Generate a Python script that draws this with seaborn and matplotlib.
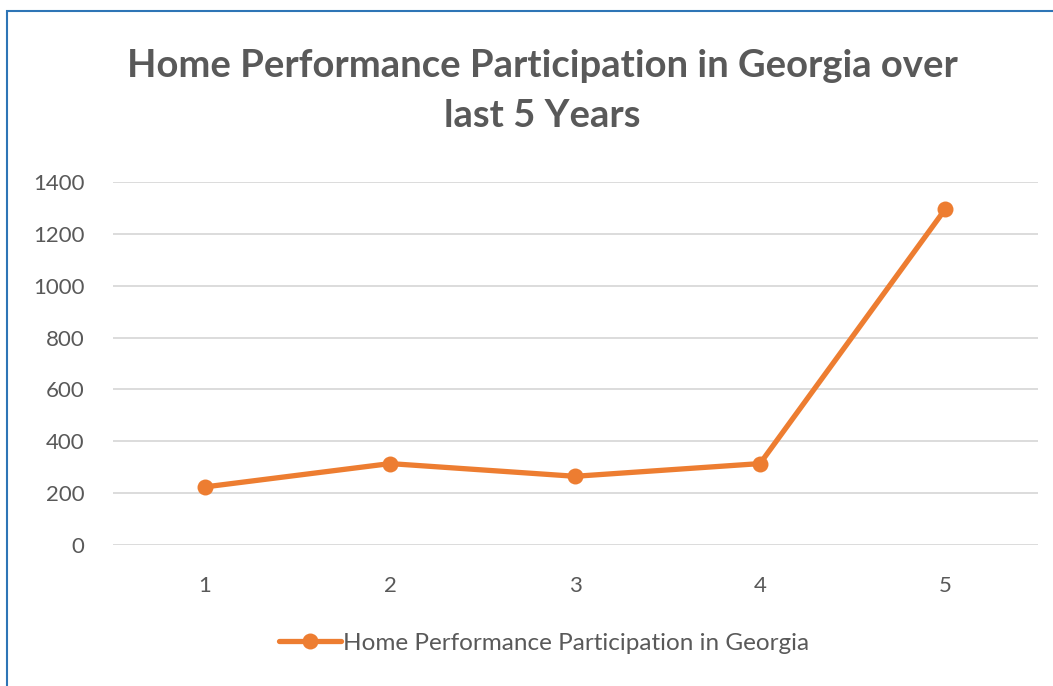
import matplotlib
matplotlib.use("Agg")
import matplotlib.pyplot as plt
import seaborn as sns
import pandas as pd
from matplotlib.patches import Rectangle
from matplotlib.lines import Line2D

years = [1, 2, 3, 4, 5]
participation = [224, 314, 265, 314, 1294]
yticks = [0, 200, 400, 600, 800, 1000, 1200, 1400]
series_name = "Home Performance Participation in Georgia"
title = "Home Performance Participation in Georgia over\nlast 5 Years"

sns.set_theme(style="white")
plt.rcParams['font.family'] = ['Lato', 'DejaVu Sans']

df = pd.DataFrame({"year": years, "value": participation})

fig = plt.figure(figsize=(10.53, 6.86), dpi=100)
W, H = 1053, 686
ax = fig.add_axes([112.5 / W, 1 - 545 / H, (1037.5 - 112.5) / W, (545 - 182) / H])

orange = "#ED7D31"
sns.lineplot(data=df, x="year", y="value", ax=ax, color=orange, linewidth=3.8,
             marker="o", markersize=11.5, markeredgewidth=0, legend=False)

ax.set_xlim(0.5, 5.5)
ax.set_ylim(0, 1400)
ax.set_yticks(yticks)
ax.set_xticks(years)
ax.set_xticklabels([str(y) for y in years])
ax.set_yticklabels([str(t) for t in yticks])
ax.grid(axis="y", color="#d9d9d9", linewidth=1.3)
ax.grid(axis="x", visible=False)
ax.set_axisbelow(True)
for s in ax.spines.values():
    s.set_visible(False)
ax.tick_params(axis="both", length=0, colors="#595959", labelsize=16)
ax.tick_params(axis="y", pad=20)
ax.tick_params(axis="x", pad=22)
ax.set_xlabel("")
ax.set_ylabel("")

fig.text(542 / W, 1 - 91 / H, title, ha="center", va="center", fontsize=27.5,
         fontweight="bold", color="#595959", linespacing=1.6)

handle = Line2D([], [], color=orange, linewidth=3.8, marker="o", markersize=11.5,
                markeredgewidth=0)
fig.legend([handle], [series_name], loc="center", bbox_to_anchor=(544 / W, 1 - 643 / H),
           frameon=False, fontsize=17.5, handlelength=2.55, handletextpad=0.08,
           labelcolor="#595959")

fig.patches.append(Rectangle((6.5 / W, -0.1), 1.2, 1 - 10.5 / H + 0.1,
                             transform=fig.transFigure, fill=False,
                             edgecolor="#2E75B6", linewidth=1.5))

fig.savefig("out.png", dpi=100, facecolor="white")
